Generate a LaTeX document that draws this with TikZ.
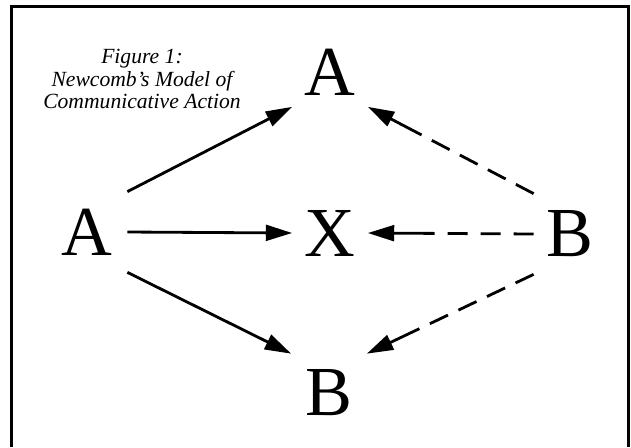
\documentclass[tikz,border=0pt]{standalone}
\usepackage{fontspec}
\setmainfont{Liberation Serif}
\usetikzlibrary{arrows.meta}

\begin{document}
\begin{tikzpicture}[
  letter/.style={minimum width=1.5cm, minimum height=1.56cm, inner sep=0pt,
                 font=\fontsize{40}{40}\selectfont},
  title/.style={align=center, inner sep=0pt, anchor=north,
                font=\fontsize{12.3}{12.8}\selectfont\itshape},
  frame/.style={line width=1.7pt},
  solidarrow/.style={line width=1.6pt, -{Triangle[length=15pt, width=9pt]}},
  dasharrow/.style={solidarrow,
    dash pattern=on 11.4pt off 6.6pt on 11.4pt off 6.6pt on 11.4pt off 6.6pt on 11.4pt off 6.6pt on 100pt},
  dashshort/.style={solidarrow,
    dash pattern=on 11.4pt off 7.4pt on 11.4pt off 7.4pt on 11.4pt off 7.4pt on 100pt},
]
\useasboundingbox (0,0) rectangle (12.62,-8.94);

% Frame (open at the bottom)
\draw[frame] (0.23,-8.94) |- (12.56,-0.13) -- (12.56,-8.94);

% Title
\node[title] (cap) at (2.84,-0.98)
  {Figure 1:\\Newcomb's Model of\\Communicative Action};

% Letters
\node[letter, minimum width=1.6cm, minimum height=1.6cm] (lA) at (1.74,-4.64) {A};
\node[letter, minimum height=1.38cm] (tA) at (6.6,-1.44) {A};
\node[letter] (mX) at (6.6,-4.66) {X};
\node[letter, minimum width=1.44cm, minimum height=1.6cm] (rB) at (11.4,-4.68) {B};
\node[letter] (bB) at (6.58,-7.86) {B};

% Arrows from A
\draw[solidarrow] (lA.north east) -- (tA.south west);
\draw[solidarrow] (lA.east) -- (mX.west);
\draw[solidarrow] (lA.south east) -- (bB.north west);

% Arrows from B
\draw[dasharrow] (rB.north west) -- (tA.south east);
\draw[dashshort] (rB.west) -- (mX.east);
\draw[dasharrow] (rB.south west) -- (bB.north east);

\end{tikzpicture}
\end{document}
